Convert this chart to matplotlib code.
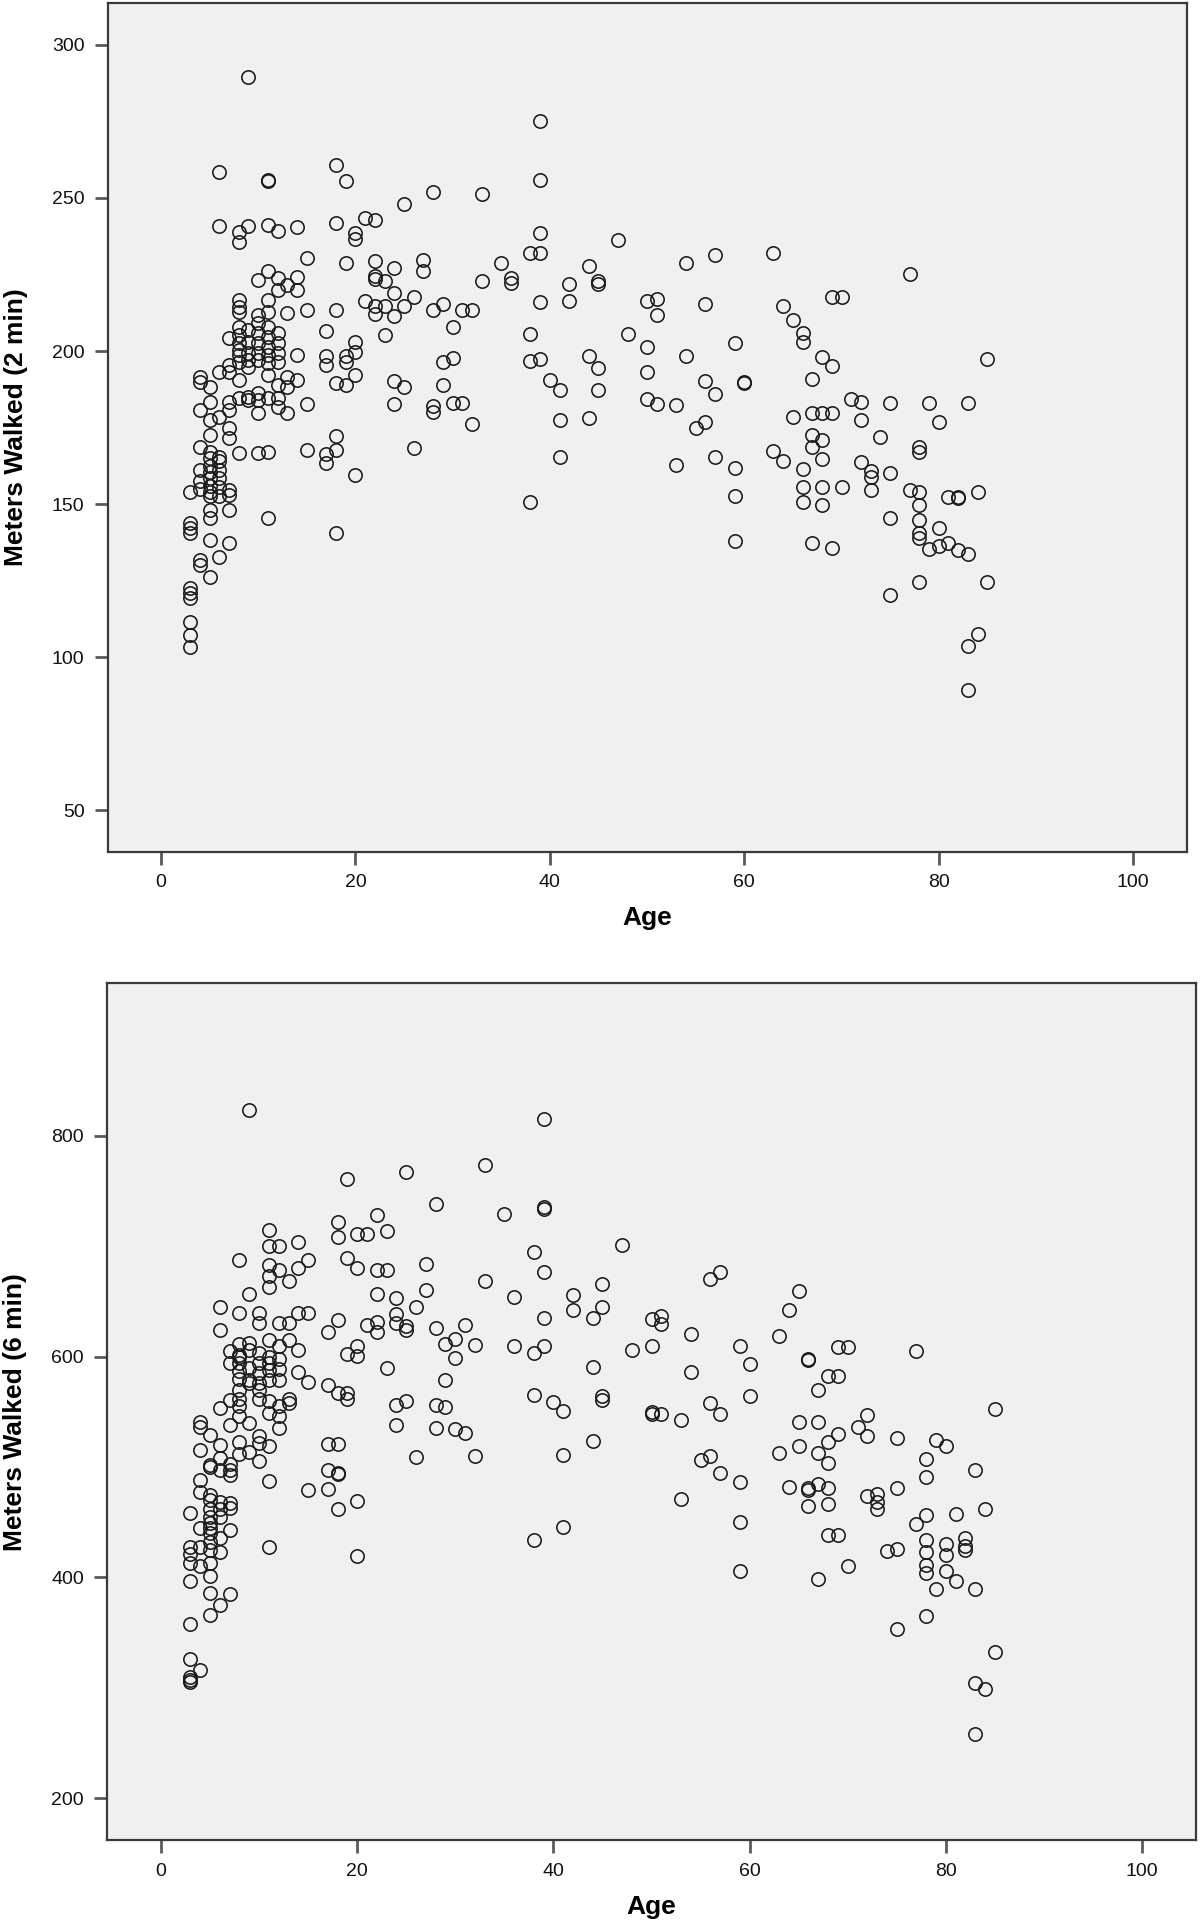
import matplotlib
matplotlib.use("Agg")
import matplotlib.pyplot as plt
from matplotlib import font_manager

# ---------------- data ----------------
age_2min = [
    3, 3, 3, 3, 3, 3, 3, 3, 3, 3,
    4, 4, 4, 4, 4, 4, 4, 4, 4,
    5, 5, 5, 5, 5, 5, 5, 5, 5, 5, 5, 5, 5, 5, 5, 5,
    6, 6, 6, 6, 6, 6, 6, 6, 6, 6, 6,
    7, 7, 7, 7, 7, 7, 7, 7, 7, 7, 7,
    8, 8, 8, 8, 8, 8, 8, 8, 8, 8, 8, 8, 8, 8,
    9, 9, 9, 9, 9, 9, 9, 9, 9,
    10, 10, 10, 10, 10, 10, 10, 10, 10, 10, 10,
    11, 11, 11, 11, 11, 11, 11, 11, 11, 11, 11, 11, 11, 11, 11,
    12, 12, 12, 12, 12, 12, 12, 12, 12, 12,
    13, 13, 13, 13, 13,
    14, 14, 14, 14, 14,
    15, 15, 15, 15,
    17, 17, 17, 17, 17,
    18, 18, 18, 18, 18, 18, 18,
    19, 19, 19, 19, 19,
    20, 20, 20, 20, 20, 20,
    21, 21,
    22, 22, 22, 22, 22, 22,
    23, 23, 23,
    24, 24, 24, 24, 24,
    25, 25, 25,
    26, 26,
    27, 27,
    28, 28, 28, 28,
    29, 29, 29,
    30, 30, 30,
    31, 31,
    32, 32,
    33, 33,
    35,
    36, 36,
    38, 38, 38, 38,
    39, 39, 39, 39, 39, 39,
    40,
    41, 41, 41,
    42, 42,
    44, 44, 44,
    45, 45, 45, 45,
    47,
    48,
    50, 50, 50, 50,
    51, 51, 51,
    53, 53,
    54, 54,
    55,
    56, 56, 56,
    57, 57, 57,
    59, 59, 59, 59,
    60, 60,
    63, 63,
    64, 64,
    65, 65,
    66, 66, 66, 66, 66,
    67, 67, 67, 67, 67,
    68, 68, 68, 68, 68, 68,
    69, 69, 69, 69,
    70, 70,
    71,
    72, 72, 72,
    73, 73, 73,
    74,
    75, 75, 75, 75,
    77, 77,
    78, 78, 78, 78, 78, 78, 78, 78,
    79, 79,
    80, 80, 80,
    81, 81,
    82, 82, 82,
    83, 83, 83, 83,
    84, 84,
    85, 85,
]

meters_2min = [
    154, 143.7, 142.1, 140.4, 122.5, 120.8, 119.2, 111.6, 107.2, 103.4,
    191.6, 190, 180.7, 168.8, 161, 157.5, 155, 131.7, 130.1,
    188.4, 183.5, 177.5, 172.6, 167, 165, 162.5, 160.5, 158.5, 156, 154, 152.5, 148, 145.3, 138.3, 126.3,
    258.6, 241, 193.3, 178.6, 165.5, 164, 161, 158.5, 155.5, 152.5, 132.8,
    204.2, 195.4, 193.3, 183.5, 180.7, 174.7, 171.5, 154.6, 153, 148, 137.2,
    239, 235.7, 216.7, 214.5, 212.9, 208, 205.2, 202.5, 200.3, 198.7, 196.5, 190.5, 184.5, 166.6,
    289.6, 241, 206.9, 203, 199.3, 197.1, 194.9, 185, 184,
    223.2, 211.8, 209, 205.8, 202.5, 199.3, 197, 186.2, 184, 179.6, 166.6,
    255.9, 255.4, 241.2, 226.3, 216.7, 212.9, 208, 204.7, 201.4, 198.7, 196, 192.2, 184.5, 167.1, 145.3,
    239.3, 223.8, 220, 205.8, 202.5, 199.3, 196.5, 189, 184.5, 181.8,
    221.6, 212.3, 191.6, 188.4, 179.6,
    240.6, 224.3, 220, 198.7, 190.5,
    230.5, 213.4, 182.8, 167.8,
    206.5, 198.4, 195.3, 166.5, 163.4,
    260.9, 241.9, 213.4, 189.6, 172.1, 167.8, 140.6,
    255.6, 228.8, 198.4, 196.5, 189,
    238.4, 236.5, 202.8, 199.6, 192.1, 159.6,
    243.6, 216.5,
    242.8, 229.4, 224.6, 223.4, 214.6, 212.1,
    222.8, 214.6, 205.3,
    227.1, 219, 211.5, 190.3, 182.8,
    248.1, 214.6, 188.4,
    217.8, 168.4,
    229.6, 226.1,
    251.8, 213.4, 182, 180,
    215.3, 196.5, 189,
    207.8, 197.8, 183.1,
    213.4, 183.1,
    213.4, 176.3,
    251.2, 223,
    228.8,
    224, 222.2,
    231.9, 205.5, 196.9, 150.6,
    275.3, 255.9, 238.6, 231.9, 215.9, 197.4,
    190.6,
    187.4, 177.4, 165.5,
    221.9, 216.5,
    227.8, 198.4, 178.1,
    222.8, 221.9, 194.6, 187.4,
    236.2,
    205.5,
    216.3, 201.3, 193, 184.3,
    217.1, 211.8, 182.8,
    182.5, 162.8,
    228.8, 198.4,
    174.9,
    215.3, 190.3, 176.8,
    231.3, 185.9, 165.3,
    202.5, 161.9, 152.5, 137.8,
    189.9, 189.5,
    231.9, 167.5,
    214.7, 164.1,
    210.3, 178.4,
    205.9, 202.8, 161.6, 155.6, 150.6,
    191, 179.7, 172.5, 168.8, 137.3,
    198.2, 179.7, 171, 164.6, 155.6, 149.8,
    217.5, 195, 179.7, 135.6,
    217.5, 155.6,
    184.4,
    183.2, 177.5, 163.8,
    160.7, 158.8, 154.6,
    171.9,
    182.9, 160, 145.4, 120.4,
    225.1, 154.6,
    168.8, 166.9, 154, 149.8, 144.8, 140.6, 138.8, 124.7,
    182.9, 135.4,
    176.9, 142.1, 136.3,
    152.3, 137.3,
    152.3, 152, 135,
    182.9, 133.8, 103.7, 89.4,
    154, 107.5,
    197.5, 124.7,
]

age_6min = [
    3, 3, 3, 3, 3, 3, 3, 3, 3, 3,
    4, 4, 4, 4, 4, 4, 4, 4, 4,
    5, 5, 5, 5, 5, 5, 5, 5, 5, 5, 5, 5, 5, 5, 5, 5,
    6, 6, 6, 6, 6, 6, 6, 6, 6, 6, 6, 6,
    7, 7, 7, 7, 7, 7, 7, 7, 7, 7, 7,
    8, 8, 8, 8, 8, 8, 8, 8, 8, 8, 8, 8, 8, 8,
    9, 9, 9, 9, 9, 9, 9, 9, 9,
    10, 10, 10, 10, 10, 10, 10, 10, 10, 10, 10,
    11, 11, 11, 11, 11, 11, 11, 11, 11, 11, 11, 11, 11, 11, 11,
    12, 12, 12, 12, 12, 12, 12, 12, 12, 12,
    13, 13, 13, 13, 13,
    14, 14, 14, 14, 14,
    15, 15, 15, 15,
    17, 17, 17, 17, 17,
    18, 18, 18, 18, 18, 18, 18, 18,
    19, 19, 19, 19, 19,
    20, 20, 20, 20, 20, 20,
    21, 21,
    22, 22, 22, 22, 22,
    23, 23, 23,
    24, 24, 24, 24, 24,
    25, 25, 25, 25,
    26, 26,
    27, 27,
    28, 28, 28, 28,
    29, 29, 29,
    30, 30, 30,
    31, 31,
    32, 32,
    33, 33,
    35,
    36, 36,
    38, 38, 38, 38,
    39, 39, 39, 39, 39, 39,
    40,
    41, 41, 41,
    42, 42,
    44, 44, 44,
    45, 45, 45, 45,
    47,
    48,
    50, 50, 50, 50,
    51, 51, 51,
    53, 53,
    54, 54,
    55,
    56, 56, 56,
    57, 57, 57,
    59, 59, 59, 59,
    60, 60,
    63, 63,
    64, 64,
    65, 65, 65,
    66, 66, 66, 66, 66,
    67, 67, 67, 67, 67,
    68, 68, 68, 68, 68, 68,
    69, 69, 69, 69,
    70, 70,
    71,
    72, 72, 72,
    73, 73, 73,
    74,
    75, 75, 75, 75,
    77, 77,
    78, 78, 78, 78, 78, 78, 78, 78,
    79, 79,
    80, 80, 80, 80,
    81, 81,
    82, 82, 82,
    83, 83, 83, 83,
    84, 84,
    85, 85,
]

meters_6min = [
    458, 428, 421, 413, 397, 358, 326, 310, 307, 305,
    541, 536, 515, 488, 477, 445, 428, 410, 316,
    529, 502, 500, 475, 470, 462, 455, 449, 445, 440, 432, 425, 413, 401, 386, 366,
    645, 624, 553, 520, 508, 497, 468, 462, 455, 436, 423, 375,
    605, 594, 561, 538, 503, 497, 493, 467, 463, 443, 385,
    687, 639, 611, 601, 600, 594, 587, 580, 570, 562, 555, 546, 523, 512,
    823, 657, 612, 606, 590, 579, 576, 540, 514,
    639, 630, 603, 594, 585, 576, 570, 562, 528, 522, 505,
    715, 700, 683, 673, 663, 615, 600, 594, 588, 579, 560, 549, 519, 487, 428,
    700, 678, 630, 610, 598, 589, 579, 555, 546, 535,
    668, 630, 615, 562, 558,
    704, 680, 639, 606, 586,
    687, 639.4, 576.6, 479.2,
    622, 574.4, 521.2, 497.4, 480,
    721.7, 708.7, 632.9, 566.6, 521.2, 494.3, 493.5, 461.8,
    760.7, 689.2, 602.6, 566.6, 561.4,
    710.9, 680.5, 610, 600.4, 469.6, 419.4,
    710.9, 628.6,
    728.2, 678.4, 656.7, 631.6, 622,
    713.9, 678.4, 589.6,
    653.2, 638.1, 630.7, 555.8, 537.6,
    767.2, 627.3, 624.2, 560.1,
    644.6, 509.5,
    684, 660.2,
    738.1, 625.5, 555.8, 535.5,
    611, 579, 554,
    615.7, 598.7, 534.8,
    629, 530.8,
    610.8, 509.8,
    773.3, 668.6,
    729.3,
    654.1, 610,
    694.5, 603.6, 565.1, 434.2,
    815, 735.3, 734, 676.7, 635.1, 610,
    559.1,
    551, 510.6, 445.9,
    655.3, 642.4,
    635.1, 590.6, 523.9,
    665.4, 645.2, 564.3, 560.3,
    701,
    605.6,
    634.3, 609.6, 550.2, 548,
    637.1, 629.8, 548,
    542.9, 470.6,
    620.1, 585.8,
    506.5,
    670.6, 558.3, 509.8,
    676.7, 548, 494.4,
    609.6, 486.3, 450.4, 405.5,
    593, 564.3,
    618.9, 513,
    641.8, 481.9,
    659.4, 541.2, 519.4,
    598.2, 597, 481.1, 479.2, 465,
    570.1, 541.2, 513, 484.9, 398.5,
    582.5, 522.4, 503.6, 481.1, 466.8, 438,
    608.7, 582.5, 529.9, 438,
    608.7, 410.6,
    536.3,
    547.5, 528, 473.6,
    475.5, 468, 462.4,
    423.7,
    526.2, 481.1, 426, 353.5,
    605, 448,
    507.4, 491.3, 456.7, 434.2, 422.9, 411.7, 404.1, 364.8,
    524.3, 389.1,
    518.6, 430.4, 419.9, 406,
    457.8, 396.6,
    436.1, 428.6, 424.8,
    497.3, 389.9, 304.7, 258.5,
    462.4, 299,
    552.4, 332.1,
]

x_ticks = [0, 20, 40, 60, 80, 100]
y_ticks_2min = [50, 100, 150, 200, 250, 300]
y_ticks_6min = [200, 400, 600, 800]

x_label = "Age"
y_label_2min = "Meters Walked (2 min)"
y_label_6min = "Meters Walked (6 min)"

assert len(age_2min) == len(meters_2min)
assert len(age_6min) == len(meters_6min)

# ---------------- fonts ----------------
installed = {f.name for f in font_manager.fontManager.ttflist}
TICK_FONT = ["Liberation Sans", "DejaVu Sans"]
if "Liberation Sans Narrow" in installed:
    LABEL_FONT = ["Liberation Sans Narrow", "DejaVu Sans"]
    LABEL_SIZE = 22.5
else:
    LABEL_FONT = ["Liberation Sans", "DejaVu Sans"]
    LABEL_SIZE = 19

# ---------------- figure ----------------
W, H = 1200, 1925
fig = plt.figure(figsize=(W / 100, H / 100), dpi=100)
fig.patch.set_facecolor("white")


def px_box(left, top, right, bottom):
    return [left / W, 1 - bottom / H, (right - left) / W, (bottom - top) / H]


def style_axes(ax, xs, ys, yticks, ylim, ylabel):
    ax.set_facecolor("#f0f0f0")
    ax.plot(xs, ys, linestyle="none", marker="o", markersize=9.6,
            markerfacecolor="none", markeredgecolor="#1a1a1a",
            markeredgewidth=1.15)
    ax.set_xlim(-5.5, 105.5)
    ax.set_ylim(*ylim)
    ax.set_xticks(x_ticks)
    ax.set_yticks(yticks)
    ax.tick_params(axis="both", direction="out", length=9.5, width=2.0,
                   color="#5a5a5a", labelsize=14, pad=7, labelcolor="#111111")
    for lab in ax.get_xticklabels() + ax.get_yticklabels():
        lab.set_family(TICK_FONT)
    for side in ["left", "bottom", "top", "right"]:
        ax.spines[side].set_color("#3a3a3a")
        ax.spines[side].set_linewidth(1.6)
    ax.set_xlabel(x_label, fontsize=LABEL_SIZE, fontweight="bold", family=LABEL_FONT)
    ax.set_ylabel(ylabel, fontsize=LABEL_SIZE, fontweight="bold", family=LABEL_FONT)


ax1 = fig.add_axes(px_box(107.5, 3, 1186.7, 851.5))
style_axes(ax1, age_2min, meters_2min, y_ticks_2min, (36.5, 313.7), y_label_2min)
ax1.yaxis.set_label_coords(-0.074, 0.5)
ax1.xaxis.set_label_coords(0.5, -0.064)

ax2 = fig.add_axes(px_box(107.0, 983.4, 1196.0, 1840.4))
style_axes(ax2, age_6min, meters_6min, y_ticks_6min, (161.9, 937.9), y_label_6min)
ax2.yaxis.set_label_coords(-0.0735, 0.5)
ax2.xaxis.set_label_coords(0.5, -0.064)

fig.savefig("out.png", dpi=100, facecolor="white")
